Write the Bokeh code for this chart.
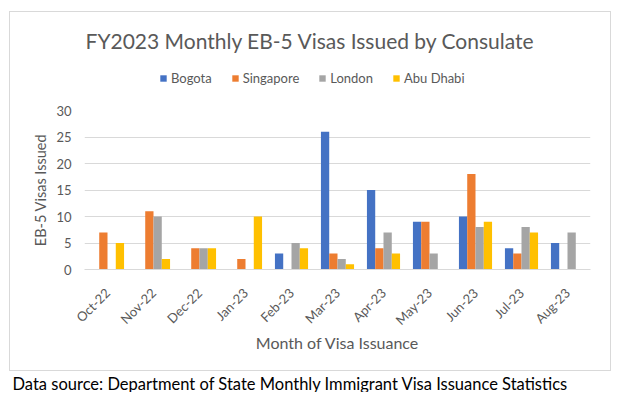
import math
from bokeh.plotting import figure
from bokeh.models import (ColumnDataSource, FactorRange, Range1d, Legend, LegendItem, Label)
from bokeh.transform import dodge
from bokeh.layouts import column
from bokeh.embed import file_html
from bokeh.resources import INLINE

# ---- data ----
months = ["Oct-22", "Nov-22", "Dec-22", "Jan-23", "Feb-23", "Mar-23",
          "Apr-23", "May-23", "Jun-23", "Jul-23", "Aug-23"]
bogota = [0, 0, 0, 0, 3, 26, 15, 9, 10, 4, 5]
singapore = [7, 11, 4, 2, 0, 3, 4, 9, 18, 3, 0]
london = [0, 10, 4, 0, 5, 2, 7, 3, 8, 8, 7]
abu_dhabi = [5, 2, 4, 10, 4, 1, 3, 0, 9, 7, 0]
series_names = ["Bogota", "Singapore", "London", "Abu Dhabi"]
y_ticks = [0, 5, 10, 15, 20, 25, 30]

title_text = "FY2023 Monthly EB-5 Visas Issued by Consulate"
x_title = "Month of Visa Issuance"
y_title = "EB-5 Visas Issued"
source_text = "Data source: Department of State Monthly Immigrant Visa Issuance Statistics"

# ---- styles ----
colors = ["#4472C4", "#ED7D31", "#A5A5A5", "#FFC000"]
offsets = [-0.27, -0.09, 0.09, 0.27]
bar_w = 0.18
FONT = "Lato"
GRAY = "#595959"

# ---------------- header: title + legend ----------------
hdr = figure(width=600, height=90, toolbar_location=None, output_backend="svg",
             x_axis_type=None, y_axis_type=None, x_range=Range1d(0, 1), y_range=Range1d(0, 1),
             min_border_left=74, min_border_right=20, min_border_top=0, min_border_bottom=0)
hdr.outline_line_color = None
hdr.grid.visible = False
hdr.add_layout(Label(x=1, y=62, x_units="screen", y_units="screen", text=title_text,
                     text_font=FONT, text_font_size="21px", text_color=GRAY,
                     text_baseline="alphabetic"))
# key swatches: zero-height bars per series, used only by the legend
key_src = ColumnDataSource(dict(x=[0.5], top=[0.0]))
key_renderers = []
for name, col in zip(series_names, colors):
    key_renderers.append(hdr.vbar(x="x", top="top", bottom=0, width=0.01, source=key_src,
                                  fill_color=col, line_color=None))
lg = Legend(items=[LegendItem(label=n, renderers=[r]) for n, r in zip(series_names, key_renderers)],
            orientation="horizontal", location=(75, 16))
lg.label_text_font = FONT
lg.label_text_font_size = "13px"
lg.label_text_color = GRAY
lg.glyph_width = 8
lg.glyph_height = 8
lg.label_standoff = 4
lg.spacing = 19
lg.padding = 0
lg.margin = 0
lg.label_height = 14
lg.border_line_color = None
lg.background_fill_alpha = 0
hdr.add_layout(lg)

# ---------------- main chart ----------------
src = ColumnDataSource(dict(month=months, Bogota=bogota, Singapore=singapore,
                            London=london, **{"Abu Dhabi": abu_dhabi}))

p = figure(x_range=FactorRange(*months), y_range=Range1d(0, 30),
           width=600, height=268, toolbar_location=None, output_backend="svg",
           min_border_left=74, min_border_right=20, min_border_top=8,
           min_border_bottom=101)
p.outline_line_color = None

for name, col, off in zip(series_names, colors, offsets):
    p.vbar(x=dodge("month", off, range=p.x_range), top=name, width=bar_w,
           source=src, fill_color=col, line_color=None)

p.xgrid.grid_line_color = None
p.ygrid.grid_line_color = "#d9d9d9"
p.ygrid.grid_line_width = 1

p.yaxis.ticker = y_ticks
p.yaxis.axis_line_color = None
p.yaxis.major_tick_line_color = None
p.yaxis.minor_tick_line_color = None
p.yaxis.major_tick_out = 0
p.yaxis.minor_tick_out = 0
p.yaxis.major_label_text_font = FONT
p.yaxis.major_label_text_font_size = "13px"
p.yaxis.major_label_text_color = GRAY
p.yaxis.major_label_standoff = 13
p.yaxis.axis_label = y_title
p.yaxis.axis_label_text_font = FONT
p.yaxis.axis_label_text_font_size = "14.5px"
p.yaxis.axis_label_text_font_style = "normal"
p.yaxis.axis_label_text_color = GRAY
p.yaxis.axis_label_standoff = 4

p.xaxis.axis_line_color = "#d9d9d9"
p.xaxis.major_tick_line_color = None
p.xaxis.minor_tick_line_color = None
p.xaxis.major_tick_out = 0
p.xaxis.major_label_orientation = math.pi / 4
p.xaxis.major_label_text_font = FONT
p.xaxis.major_label_text_font_size = "13px"
p.xaxis.major_label_text_color = GRAY
p.xaxis.major_label_standoff = 21
p.xaxis.axis_label = x_title
p.xaxis.axis_label_text_font = FONT
p.xaxis.axis_label_text_font_size = "16px"
p.xaxis.axis_label_text_font_style = "normal"
p.xaxis.axis_label_text_color = GRAY
p.xaxis.axis_label_standoff = -3

chart = column(hdr, p, spacing=0, margin=(11, 0, 0, 9),
               styles={"border": "1px solid #d9d9d9"})

# ---------------- source note (outside the chart frame) ----------------
foot = figure(width=618, height=21, toolbar_location=None, output_backend="svg",
              x_axis_type=None, y_axis_type=None, x_range=Range1d(0, 1), y_range=Range1d(0, 1),
              min_border=0)
if hasattr(foot, "frame_align"):
    foot.frame_align = False
foot.outline_line_color = None
foot.grid.visible = False
foot.add_layout(Label(x=12, y=9, x_units="screen", y_units="screen", text=source_text,
                      text_font=FONT, text_font_size="16.5px", text_color="black",
                      text_baseline="alphabetic"))

page = column(chart, foot, spacing=0)
open("out.html", "w").write(file_html(page, INLINE))
